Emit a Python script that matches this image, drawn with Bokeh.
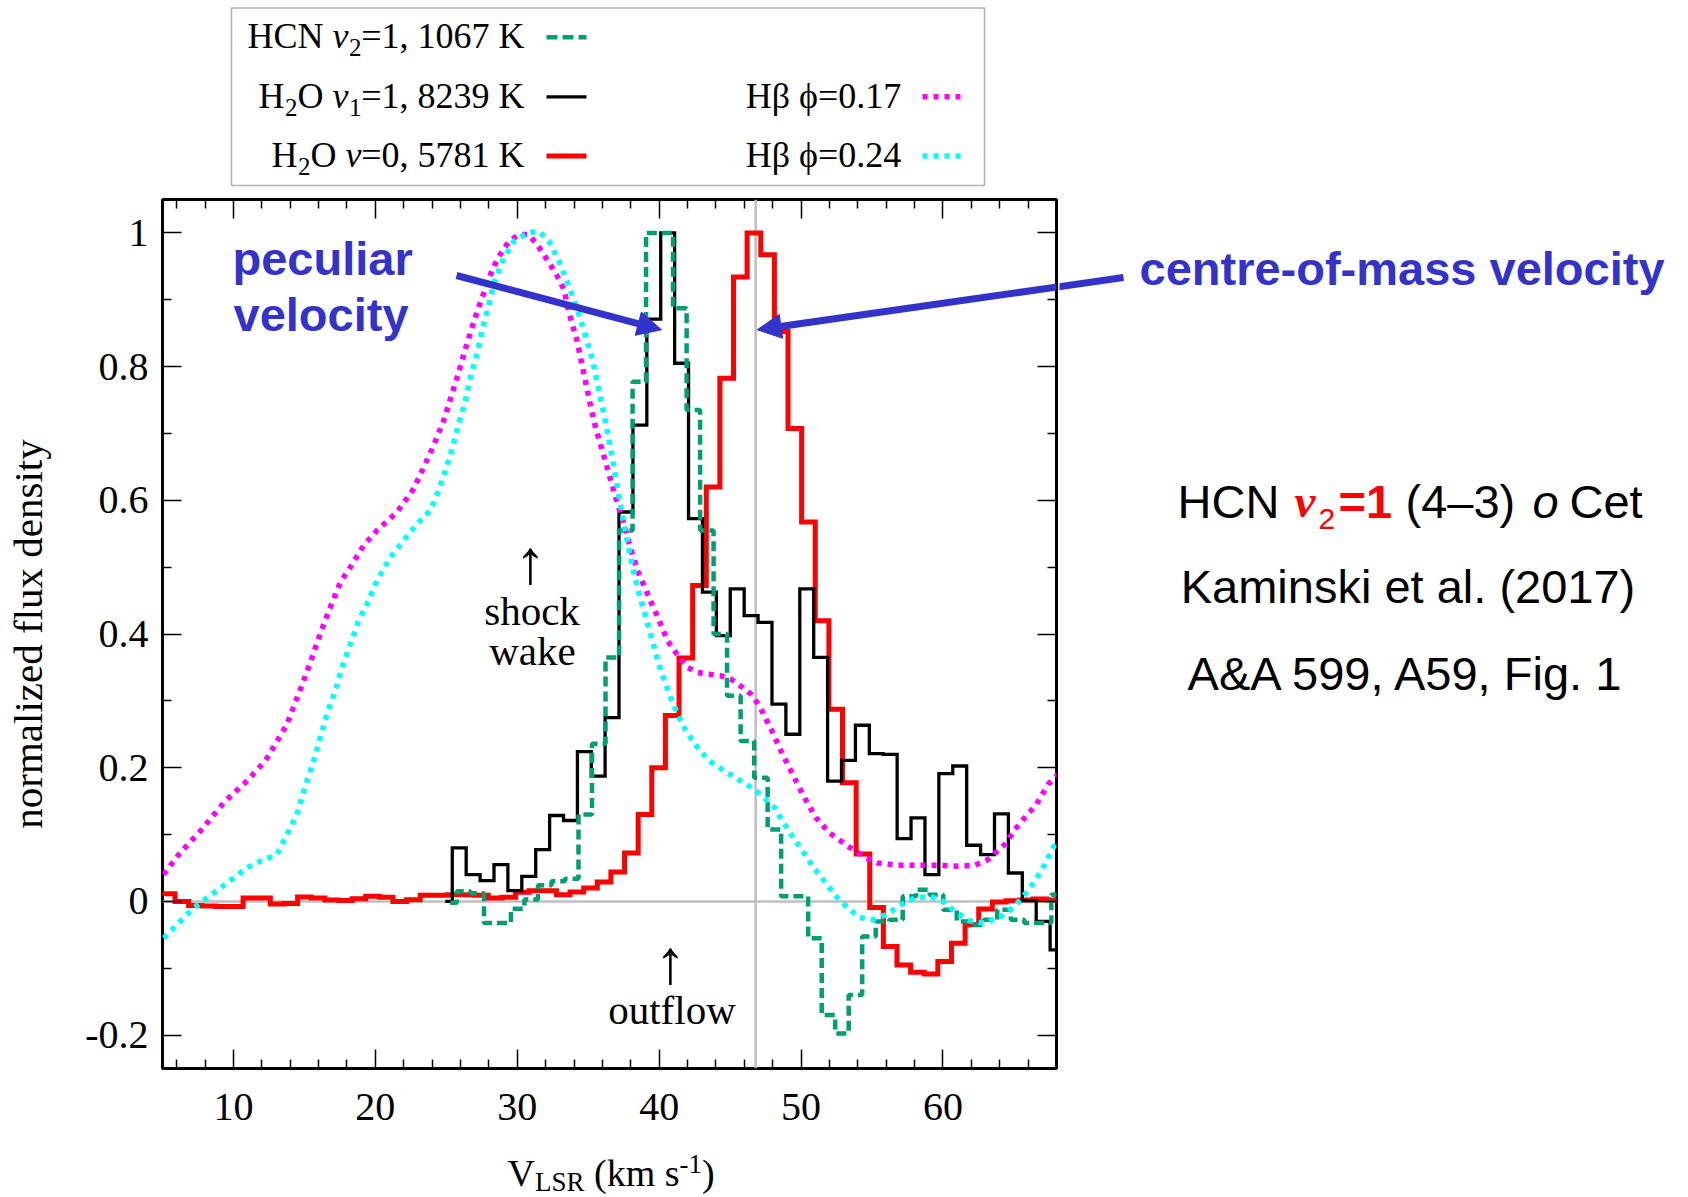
from bokeh.plotting import figure
from bokeh.layouts import column, row
from bokeh.models import (Range1d, FixedTicker, LinearAxis, Span, Label, Arrow,
                          NormalHead, BoxAnnotation, CustomJSTickFormatter)
from bokeh.embed import file_html
from bokeh.resources import INLINE
from bokeh.core.properties import value

# ---------------- data ----------------
# HCN v2=1, 1067 K  (green dashed histogram, channel centres in km/s)
hcn_v = [25.27, 26.22, 27.18, 28.13, 29.08, 30.03, 30.98, 31.94, 32.89, 33.84,
         34.79, 35.74, 36.70, 37.65, 38.60, 39.55, 40.50, 41.46, 42.41, 43.36,
         44.31, 45.26, 46.22, 47.17, 48.12, 49.07, 50.02, 50.98, 51.93, 52.88,
         53.83, 54.78, 55.74, 56.69, 57.64, 58.59, 59.54, 60.50, 61.45, 62.40,
         63.35, 64.30, 65.26, 66.21, 67.16, 68.11]
hcn_f = [-0.002, 0.015, 0.012, -0.0325, -0.0325, -0.011, 0.003, 0.024, 0.03, 0.034,
         0.13, 0.236, 0.365, 0.555, 0.7775, 1.0, 1.0, 0.8875, 0.735, 0.555,
         0.40, 0.3075, 0.24, 0.185, 0.1075, 0.0075, 0.0075, -0.055, -0.17, -0.1975,
         -0.14, -0.0525, -0.03, -0.0275, 0.0075, 0.0175, 0.01, -0.0125, -0.03, -0.035,
         -0.0275, -0.0125, -0.0275, -0.0325, -0.0325, 0.01]

# H2O v1=1, 8239 K (black histogram)
h2o1_v = [24.93, 25.91, 26.89, 27.87, 28.85, 29.83, 30.81, 31.79, 32.77, 33.75,
          34.73, 35.70, 36.68, 37.66, 38.64, 39.62, 40.60, 41.58, 42.56, 43.54,
          44.52, 45.50, 46.48, 47.46, 48.44, 49.42, 50.40, 51.38, 52.36, 53.34,
          54.32, 55.30, 56.28, 57.26, 58.24, 59.22, 60.20, 61.18, 62.16, 63.14,
          64.12, 65.10, 66.08, 67.06, 68.04]
h2o1_f = [0.0, 0.08, 0.04, 0.031, 0.055, 0.016, 0.0375, 0.0775, 0.1285, 0.121,
          0.224, 0.1875, 0.275, 0.5825, 0.7125, 0.871, 1.0, 0.805, 0.5725, 0.4625,
          0.3975, 0.4675, 0.4275, 0.4175, 0.295, 0.25, 0.4675, 0.365, 0.18, 0.211,
          0.2635, 0.221, 0.22, 0.094, 0.125, 0.04, 0.191, 0.2025, 0.084, 0.07,
          0.131, 0.0425, 0.001, -0.03, -0.0725]

# H2O v=0, 5781 K (red histogram)
h2o0_v = [4.44, 5.40, 6.36, 7.32, 8.28, 9.24, 10.20, 11.16, 12.12, 13.08,
          14.04, 15.00, 15.96, 16.92, 17.88, 18.84, 19.80, 20.76, 21.72, 22.68,
          23.64, 24.60, 25.56, 26.52, 27.48, 28.44, 29.40, 30.36, 31.32, 32.28,
          33.24, 34.20, 35.16, 36.12, 37.08, 38.04, 39.00, 39.96, 40.92, 41.88,
          42.84, 43.80, 44.76, 45.72, 46.68, 47.64, 48.60, 49.56, 50.52, 51.48,
          52.44, 53.40, 54.36, 55.32, 56.28, 57.24, 58.20, 59.16, 60.12, 61.08,
          62.04, 63.00, 63.96, 64.92, 65.88, 66.84, 67.80, 68.76]
h2o0_f = [0.0115, 0.0115, 0.0, -0.006, -0.007, -0.0075, -0.0075, 0.005, 0.005, -0.004,
          -0.003, 0.0065, 0.005, 0.002, 0.0015, 0.004, 0.0075, 0.006, 0.0, 0.0025,
          0.009, 0.009, 0.01, 0.01, 0.009, 0.005, 0.006, 0.0135, 0.016, 0.016,
          0.01, 0.014, 0.02, 0.029, 0.044, 0.0725, 0.13, 0.2, 0.278, 0.364,
          0.4725, 0.62, 0.7825, 0.934, 1.0, 0.9675, 0.8525, 0.7075, 0.5675, 0.42,
          0.2875, 0.1775, 0.071, -0.009, -0.0675, -0.095, -0.106, -0.1085, -0.09, -0.0625,
          -0.035, -0.0115, -0.001, 0.001, 0.002, 0.0035, 0.002, 0.002]

# H-beta phi=0.17 (magenta dotted)
hb17_v = [5.07, 6.24, 7.66, 9.42, 10.83, 12.24, 12.95, 13.77, 14.36, 14.95,
          15.54, 16.24, 16.83, 17.54, 18.24, 19.18, 20.12, 21.54, 22.71, 23.42,
          24.12, 24.83, 25.30, 25.89, 26.36, 26.83, 27.30, 27.77, 28.24, 28.71,
          29.42, 30.10, 30.80, 31.40, 32.10, 32.83, 33.30, 33.65, 34.20, 34.59,
          35.18, 35.53, 36.12, 36.59, 37.06, 37.53, 37.89, 38.47, 39.18, 40.00,
          40.59, 41.41, 41.99, 42.71, 43.41, 44.35, 45.06, 45.88, 46.47, 47.06,
          47.88, 48.59, 49.41, 50.24, 51.06, 52.00, 53.41, 54.59, 55.41, 56.82,
          58.23, 59.64, 61.06, 62.23, 63.17, 64.35, 65.17, 65.76, 66.58, 67.41,
          67.88, 68.10]
hb17_f = [0.04, 0.0725, 0.105, 0.15, 0.1775, 0.21, 0.235, 0.265, 0.2975, 0.33,
          0.365, 0.4075, 0.44, 0.4775, 0.50, 0.5325, 0.555, 0.5825, 0.6175, 0.65,
          0.6825, 0.72, 0.7525, 0.7925, 0.8275, 0.86, 0.89, 0.9175, 0.945, 0.965,
          0.9875, 0.9975, 0.9975, 0.9825, 0.96, 0.935, 0.915, 0.88, 0.84, 0.80,
          0.74, 0.708, 0.665, 0.63, 0.595, 0.565, 0.535, 0.495, 0.46, 0.42,
          0.39, 0.365, 0.35, 0.3425, 0.34, 0.3375, 0.3325, 0.32, 0.31, 0.2925,
          0.258, 0.225, 0.19, 0.155, 0.125, 0.1025, 0.081, 0.065, 0.0575, 0.054,
          0.054, 0.054, 0.0525, 0.054, 0.0625, 0.085, 0.11, 0.125, 0.145, 0.175,
          0.185, 0.19]

# H-beta phi=0.24 (cyan dotted)
hb24_v = [5.07, 5.66, 6.36, 7.19, 8.13, 9.07, 10.01, 10.95, 11.89, 13.07,
          13.77, 14.48, 14.95, 15.65, 16.12, 16.59, 17.18, 17.65, 18.24, 18.83,
          19.42, 20.12, 21.07, 22.00, 22.95, 23.89, 24.48, 24.95, 25.42, 25.89,
          26.36, 26.71, 27.18, 27.53, 28.00, 28.36, 29.06, 29.77, 30.71, 31.53,
          32.24, 32.94, 33.65, 34.36, 34.83, 35.30, 35.65, 36.10, 36.60, 37.10,
          37.60, 38.12, 38.59, 39.06, 39.65, 40.12, 40.71, 41.30, 41.88, 42.71,
          43.53, 44.59, 45.77, 46.71, 47.53, 48.24, 48.47, 49.30, 50.12, 50.82,
          51.65, 52.47, 53.29, 54.12, 55.06, 56.00, 57.06, 58.00, 59.06, 60.00,
          60.82, 61.88, 62.94, 64.12, 65.06, 65.76, 66.47, 67.17, 67.76, 68.10]
hb24_f = [-0.055, -0.0425, -0.0275, -0.01, 0.005, 0.02, 0.035, 0.05, 0.06, 0.07,
          0.10, 0.13, 0.165, 0.21, 0.245, 0.28, 0.315, 0.35, 0.385, 0.42,
          0.445, 0.48, 0.515, 0.54, 0.565, 0.585, 0.615, 0.645, 0.6775, 0.715,
          0.75, 0.785, 0.82, 0.855, 0.8925, 0.925, 0.9625, 0.9875, 1.0, 1.0025,
          0.9875, 0.9575, 0.92, 0.8775, 0.845, 0.81, 0.775, 0.73, 0.675, 0.615,
          0.555, 0.5, 0.46, 0.425, 0.38, 0.345, 0.31, 0.28, 0.255, 0.23,
          0.21, 0.195, 0.18, 0.1675, 0.1525, 0.138, 0.128, 0.10, 0.075, 0.0525,
          0.03, 0.0075, -0.01, -0.024, -0.0275, -0.02, -0.005, 0.005, 0.0075, 0.0,
          -0.015, -0.029, -0.0325, -0.0225, -0.0075, 0.01, 0.03, 0.055, 0.08, 0.092]

x_major = [10, 20, 30, 40, 50, 60]
x_minor = [6, 8, 12, 14, 16, 18, 22, 24, 26, 28, 32, 34, 36, 38, 42, 44, 46, 48,
           52, 54, 56, 58, 62, 64, 66, 68]
y_major = [-0.2, 0.0, 0.2, 0.4, 0.6, 0.8, 1.0]
y_major_text = ["-0.2", "0", "0.2", "0.4", "0.6", "0.8", "1"]
y_minor = [-0.1, 0.1, 0.3, 0.5, 0.7, 0.9]
v_centre = 46.8

# ---------------- geometry (page pixels) ----------------
W, H = 1688, 1197
FL, FT, FW, FH = 162, 199, 894, 869       # plot frame
X0, X1, Y0, Y1 = 5.0, 68.0, -0.25, 1.05
TOPB, RIGHTB, BOTB = 6, 3, 80             # borders of the main figure
LEG_H = FT - TOPB                          # legend strip above
MAIN_W = FL + FW + RIGHTB
MAIN_H = TOPB + FH + BOTB
BOT_Y = LEG_H + MAIN_H                     # top of the strip below

SERIF = "Liberation Serif"
SANS = "Liberation Sans"
BLUE = "#3333cc"


def X2d(X):
    return X0 + (X - FL) * (X1 - X0) / FW


def Y2d(Y):
    return Y1 - (Y - FT) * (Y1 - Y0) / FH


def strip(x0, x1, y0, y1, h):
    # a blank figure whose frame coordinates are page pixels
    f = figure(width=int(round(x1 - x0)), height=h,
               x_range=Range1d(x0, x1), y_range=Range1d(y1, y0),
               min_border=0, toolbar_location=None, output_backend="svg",
               x_axis_location=None, y_axis_location=None, title=None)
    f.outline_line_color = None
    f.grid.visible = False
    f.background_fill_color = "white"
    f.border_fill_color = "white"
    return f


p = figure(frame_width=FW, frame_height=FH, min_border_left=FL, min_border_top=TOPB,
           min_border_right=RIGHTB, min_border_bottom=BOTB,
           x_range=Range1d(X0, X1), y_range=Range1d(Y0, Y1),
           output_backend="svg", toolbar_location=None, title=None)
p.background_fill_color = "white"
p.border_fill_color = "white"
p.outline_line_color = "black"
p.outline_line_width = 3
p.outline_line_alpha = 1.0
p.xgrid.visible = False
p.ygrid.visible = False

leg = strip(0, W, 0, LEG_H, LEG_H)
# the side figure's frame is aligned with the main frame by the row layout
side = strip(MAIN_W, W, FT, FT + FH, MAIN_H)
bot = strip(0, W, BOT_Y, H, H - BOT_Y)

xt = FixedTicker(ticks=x_major, minor_ticks=x_minor)
yt = FixedTicker(ticks=y_major, minor_ticks=y_minor)


def style_axis(ax):
    ax.axis_line_color = None
    ax.major_tick_in = 19
    ax.major_tick_out = 0
    ax.minor_tick_in = 9
    ax.minor_tick_out = 0
    ax.major_tick_line_width = 1.5
    ax.minor_tick_line_width = 1.5
    ax.major_tick_line_color = "black"
    ax.minor_tick_line_color = "black"
    ax.major_label_text_font = SERIF
    ax.major_label_text_font_size = "40px"
    ax.major_label_text_color = "black"


p.xaxis.ticker = xt
p.yaxis.ticker = yt
style_axis(p.xaxis[0])
style_axis(p.yaxis[0])
p.xaxis.major_label_standoff = 25
p.yaxis.major_label_standoff = 14
p.yaxis.major_label_overrides = {v: t for v, t in zip(y_major, y_major_text)}
p.yaxis.axis_label = "normalized flux density"
p.yaxis.axis_label_text_font = SERIF
p.yaxis.axis_label_text_font_size = "41px"
p.yaxis.axis_label_text_font_style = "normal"
p.yaxis.axis_label_text_color = "black"
p.yaxis.axis_label_standoff = 31

for loc, tk in (("above", xt), ("right", yt)):
    ax = LinearAxis(ticker=tk, formatter=CustomJSTickFormatter(code="return ''"))
    style_axis(ax)
    ax.major_label_text_font_size = "0px"
    ax.major_label_standoff = 0
    p.add_layout(ax, loc)

# reference lines
p.add_layout(Span(location=0, dimension="width", line_color="#bebebe", line_width=2.5, level="underlay"))
p.add_layout(Span(location=v_centre, dimension="height", line_color="#bebebe", line_width=2.5, level="underlay"))

# spectra
p.step(h2o0_v, h2o0_f, mode="center", line_color="#ff0000", line_width=5, line_join="miter")
p.step(h2o1_v, h2o1_f, mode="center", line_color="black", line_width=3.3, line_join="miter")
p.step(hcn_v, hcn_f, mode="center", line_color="#009e73", line_width=4.5, line_dash="10 5")
p.line(hb17_v, hb17_f, line_color="#ff00ff", line_width=5.5, line_dash="5 6")
p.line(hb24_v, hb24_f, line_color="#00ffff", line_width=5.5, line_dash="5 6")


def lab(fig, X, Y, text, size, font=SERIF, style="normal", color="black", align="left",
        baseline="alphabetic"):
    Yc = Y - (0.3 * size if baseline == "alphabetic" else 0.08 * size)
    x, y = (X2d(X), Y2d(Yc)) if fig is p else (X, Yc)
    fig.add_layout(Label(x=x, y=y, text=text, text_font=font,
                         text_font_size=f"{size}px", text_font_style=style,
                         text_color=color, text_align=align, text_baseline=baseline))


def seg(fig, Xa, Ya, Xb, Yb, color, width, dash="solid", head=None):
    if fig is p:
        xa, ya, xb, yb = X2d(Xa), Y2d(Ya), X2d(Xb), Y2d(Yb)
    else:
        xa, ya, xb, yb = Xa, Ya, Xb, Yb
    fig.add_layout(Arrow(x_start=xa, y_start=ya, x_end=xb, y_end=yb,
                         start=None, end=head, line_color=color, line_width=width,
                         line_dash=dash))


# ---- legend (strip above the frame) ----
leg.add_layout(BoxAnnotation(left=231, right=984, top=7.5, bottom=185,
                             fill_color=None, fill_alpha=0, line_color="black", line_width=1.5))
LS, SUB = 36, 25
lab(leg, 323, 46.7, "HCN", LS, align="right")
lab(leg, 332, 46.7, "v", LS, style="italic")
lab(leg, 348.4, 54.7, "2", SUB)
lab(leg, 524, 46.7, "=1, 1067 K", LS, align="right")
seg(leg, 546, 36.7, 586, 36.7, "#009e73", 4.5, "11 5")

lab(leg, 258, 106.5, "H", LS)
lab(leg, 284.4, 114.5, "2", SUB)
lab(leg, 297, 106.5, "O", LS)
lab(leg, 332, 106.5, "v", LS, style="italic")
lab(leg, 348.4, 114.5, "1", SUB)
lab(leg, 524, 106.5, "=1, 8239 K", LS, align="right")
seg(leg, 546, 96.3, 586, 96.3, "black", 3.3)
lab(leg, 900.7, 106.5, "H\u03b2 \u03d5=0.17", LS, align="right")
seg(leg, 922, 96.3, 962, 96.3, "#ff00ff", 5.5, "5 6")

lab(leg, 271, 165, "H", LS)
lab(leg, 297.4, 173, "2", SUB)
lab(leg, 310, 165, "O", LS)
lab(leg, 345, 165, "v", LS, style="italic")
lab(leg, 524, 165, "=0, 5781 K", LS, align="right")
seg(leg, 546, 155.5, 586, 155.5, "#ff0000", 5)
lab(leg, 900.7, 165, "H\u03b2 \u03d5=0.24", LS, align="right")
seg(leg, 922, 155.5, 962, 155.5, "#00ffff", 5.5, "5 6")

# ---- x axis label, V_LSR (km s^-1), strip below ----
lab(bot, 507, 1183.5, "V", 38)
lab(bot, 534.5, 1189.5, "LSR", 27)
lab(bot, 593.5, 1183.5, "(km s", 38)
lab(bot, 679, 1172, "-1", 27)
lab(bot, 701.5, 1183.5, ")", 38)

# ---- annotations inside the frame ----
lab(p, 530, 566, "\u2191", 62, align="center", baseline="middle")
lab(p, 531.5, 623, "shock", 41, align="center")
lab(p, 532, 663, "wake", 41, align="center")
lab(p, 670, 966, "\u2191", 62, align="center", baseline="middle")
lab(p, 671.5, 1021.7, "outflow", 41, align="center")

# ---- blue labels and arrows ----
lab(p, 232, 272, "peculiar", 47, font=SANS, style="bold", color=BLUE)
lab(p, 233, 328.3, "velocity", 47, font=SANS, style="bold", color=BLUE)
lab(side, 1139, 282, "centre-of-mass velocity", 47, font=SANS, style="bold", color=BLUE)
seg(p, 456, 275, 661, 329.3, BLUE, 7,
    head=NormalHead(size=24, fill_color=BLUE, line_color=BLUE, line_width=1))
seg(p, 1123, 277, 756.7, 329.3, BLUE, 7,
    head=NormalHead(size=24, fill_color=BLUE, line_color=BLUE, line_width=1))
seg(side, 1123, 277, 756.7, 329.3, BLUE, 7)

# ---- right-hand caption ----
lab(side, 1177, 515, "HCN", 47, font=SANS)
lab(side, 1294, 515, "v", 47, font=SERIF, style="bold italic", color="#ff0000")
lab(side, 1318, 527, "2", 30, font=SANS, color="#ff0000")
lab(side, 1338, 515, "=1", 47, font=SANS, style="bold", color="#ff0000")
lab(side, 1405, 515, "(4\u20133)", 47, font=SANS)
lab(side, 1532, 515, "o", 47, font=SANS, style="italic")
lab(side, 1569, 515, "Cet", 47, font=SANS)
lab(side, 1407.5, 600, "Kaminski et al. (2017)", 47, font=SANS, align="center")
lab(side, 1406.5, 687, "A&A 599, A59, Fig. 1", 47, font=SANS, align="center")

layout = column(leg, row(p, side), bot)
open("out.html", "w").write(file_html(layout, INLINE))
